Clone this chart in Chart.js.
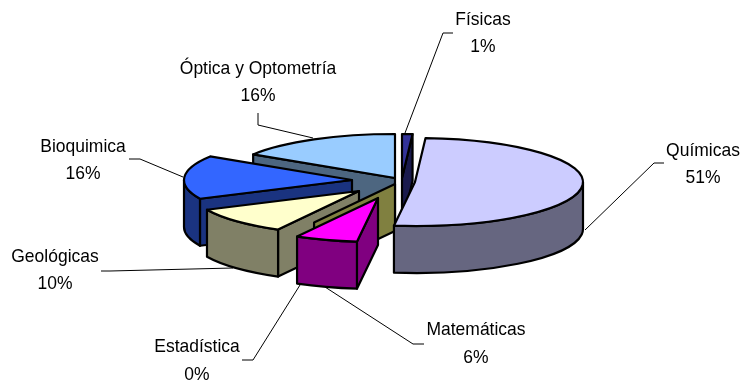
<!DOCTYPE html>
<html>
<head>
<meta charset="utf-8">
<style>
  html, body { margin: 0; padding: 0; background: #fff; }
  canvas { display: block; }
</style>
<script src="https://cdn.jsdelivr.net/npm/chart.js@4"></script>
</head>
<body>
<canvas id="pie3d" width="742" height="382"></canvas>
<script>
const categories = ['Físicas', 'Químicas', 'Matemáticas', 'Estadística', 'Geológicas', 'Bioquimica', 'Óptica y Optometría'];
const percents = [1, 51, 6, 0, 10, 16, 16];

const topColors = ['#333399', '#CCCCFF', '#FF00FF', '#808040', '#FFFFCC', '#3366FF', '#99CCFF'];
const wallColors = ['#1A1A4D', '#666680', '#800080', '#808040', '#808066', '#1A3380', '#4D6680'];

// how far each slice is pulled out of the pie (the picture's explosion is uneven)
const shiftX = [7, 20, -17, 0, -36, -43, 0];
const shiftY = [0, 4, 20, 6, 13, 2, 0];
const paintOrder = [6, 5, 4, 3, 0, 1, 2];

// label centre, two text baselines' middles, leader polyline
const labelSpots = [
  { x: 483, y: [20, 47], leader: [[453, 33], [443, 33], [405, 133]] },
  { x: 703, y: [151, 178], leader: [[664, 163], [654, 163], [585, 230]] },
  { x: 476, y: [330, 358], leader: [[424, 344], [413, 344], [325, 287]] },
  { x: 197, y: [347, 375], leader: [[242, 360], [253, 360], [300, 285]] },
  { x: 55, y: [257, 284], leader: [[101, 271], [110, 271], [233, 268]] },
  { x: 83, y: [147, 174], leader: [[129, 159], [140, 159], [183, 177]] },
  { x: 258, y: [69, 96], leader: [[258, 113], [258, 125], [313, 138]] }
];

const SQUASH = 0.262;
const DEPTH = 47;

function drawSlice(ctx, arc, i) {
  const cx = arc.x + shiftX[i];
  const cy = arc.y + shiftY[i];
  const r = arc.outerRadius;
  const ry = r * SQUASH;
  const a0 = arc.startAngle;
  const a1 = arc.endAngle;

  function cutFace(a) {
    ctx.beginPath();
    ctx.moveTo(cx, cy);
    ctx.lineTo(cx + r * Math.cos(a), cy + ry * Math.sin(a));
    ctx.lineTo(cx + r * Math.cos(a), cy + ry * Math.sin(a) + DEPTH);
    ctx.lineTo(cx, cy + DEPTH);
    ctx.closePath();
    ctx.fillStyle = wallColors[i];
    ctx.fill();
    ctx.stroke();
  }

  if (Math.cos(a0) < 0) cutFace(a0);
  if (Math.cos(a1) > 0) cutFace(a1);

  // outer wall, only the part that faces the viewer
  const w0 = Math.max(a0, 0);
  const w1 = Math.min(a1, Math.PI);
  if (w1 > w0) {
    ctx.beginPath();
    ctx.ellipse(cx, cy, r, ry, 0, w0, w1);
    ctx.ellipse(cx, cy + DEPTH, r, ry, 0, w1, w0, true);
    ctx.closePath();
    ctx.fillStyle = wallColors[i];
    ctx.fill();
    ctx.stroke();
  }

  if (a1 > a0) {
    ctx.beginPath();
    ctx.moveTo(cx, cy);
    ctx.ellipse(cx, cy, r, ry, 0, a0, a1);
    ctx.closePath();
    ctx.fillStyle = arc.options.backgroundColor;
    ctx.fill();
    ctx.stroke();
  }
}

// reference text is a bit taller and narrower than plain Liberation Sans
function narrowText(ctx, text, x, y) {
  ctx.save();
  ctx.translate(x, y);
  ctx.scale(0.92, 1);
  ctx.fillText(text, 0, 0);
  ctx.restore();
}

const pie3d = {
  id: 'pie3d',
  beforeDatasetDraw(chart) {
    const ctx = chart.ctx;
    const arcs = chart.getDatasetMeta(0).data;
    ctx.save();
    ctx.strokeStyle = '#000';
    ctx.lineWidth = 2.2;
    ctx.lineJoin = 'round';
    paintOrder.forEach(i => drawSlice(ctx, arcs[i], i));
    ctx.restore();
    return false;
  },
  afterDatasetsDraw(chart) {
    const ctx = chart.ctx;
    ctx.save();
    ctx.strokeStyle = '#000';
    ctx.lineWidth = 1;
    ctx.fillStyle = '#000';
    ctx.font = '19px "Liberation Sans", Arial, sans-serif';
    ctx.textAlign = 'center';
    ctx.textBaseline = 'middle';
    labelSpots.forEach((s, i) => {
      narrowText(ctx, categories[i], s.x, s.y[0]);
      narrowText(ctx, percents[i] + '%', s.x, s.y[1]);
      ctx.beginPath();
      s.leader.forEach((p, j) => j ? ctx.lineTo(p[0], p[1]) : ctx.moveTo(p[0], p[1]));
      ctx.stroke();
    });
    ctx.restore();
  }
};

new Chart(document.getElementById('pie3d'), {
  type: 'pie',
  data: {
    labels: categories,
    datasets: [{ data: percents, backgroundColor: topColors, borderWidth: 0 }]
  },
  options: {
    responsive: false,
    animation: false,
    radius: 168,
    rotation: 0,
    layout: { padding: { left: 48, bottom: 26 } },
    plugins: { legend: { display: false }, tooltip: { enabled: false } }
  },
  plugins: [pie3d]
});
</script>
</body>
</html>
